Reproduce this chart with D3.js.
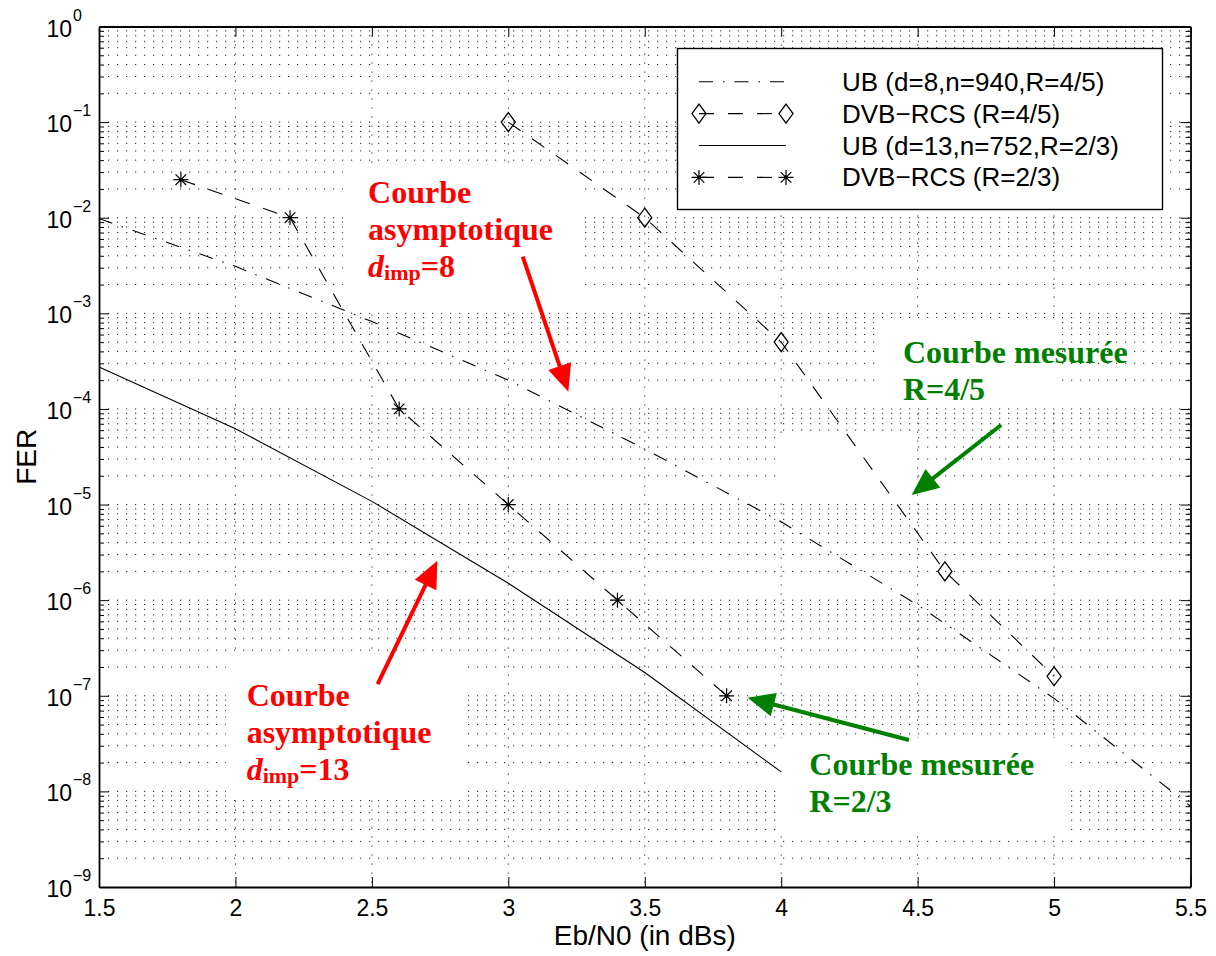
<!DOCTYPE html>
<html><head><meta charset="utf-8">
<script src="https://cdn.jsdelivr.net/npm/d3@7"></script>
<style>body{margin:0;background:#fff}</style>
</head><body>
<svg id="chart" width="1216" height="956"></svg>
<script>
// ---------------- data ----------------
const ubR45X = [1.5, 2.0, 2.5, 3.0, 3.5, 4.0, 4.5, 5.0, 5.5];
const ubR45Y = [9.8e-3, 3.1e-3, 8.2e-4, 2.0e-4, 3.8e-5, 6.6e-6, 8.9e-7, 9.4e-8, 7.0e-9];
const dvbR45X = [3.0, 3.5, 4.0, 4.6, 5.0];
const dvbR45Y = [1e-1, 1e-2, 5e-4, 2e-6, 1.6e-7];
const ubR23X = [1.5, 2.0, 2.5, 3.0, 3.5, 4.0];
const ubR23Y = [2.75e-4, 6.2e-5, 1.08e-5, 1.5e-6, 1.75e-7, 1.6e-8];
const dvbR23X = [1.8, 2.2, 2.6, 3.0, 3.4, 3.8];
const dvbR23Y = [2.5e-2, 1e-2, 1e-4, 1e-5, 1e-6, 1e-7];

const xTicks = [1.5, 2, 2.5, 3, 3.5, 4, 4.5, 5, 5.5];
const xTickLabels = ["1.5", "2", "2.5", "3", "3.5", "4", "4.5", "5", "5.5"];
const yExponents = [0, -1, -2, -3, -4, -5, -6, -7, -8, -9];
const legendLabels = ["UB (d=8,n=940,R=4/5)", "DVB\u2212RCS (R=4/5)", "UB (d=13,n=752,R=2/3)", "DVB\u2212RCS (R=2/3)"];
const xLabel = "Eb/N0 (in dBs)";
const yLabel = "FER";

// annotations: positions in data units (x in dB, y as log10 FER)
const annoTexts = [
  {lines: ["Courbe", "asymptotique"], dval: "8", color: "#ff0000", x: 2.486, ly: -1.846},
  {lines: ["Courbe", "asymptotique"], dval: "13", color: "#ff0000", x: 2.041, ly: -7.104},
  {lines: ["Courbe mesur\u00e9e", "R=4/5"], dval: null, color: "#008000", x: 4.446, ly: -3.523},
  {lines: ["Courbe mesur\u00e9e", "R=2/3"], dval: null, color: "#008000", x: 4.103, ly: -7.829}
];
const annoArrows = [
  {color: "#ff0000", x0: 3.053, ly0: -2.408, x1: 3.220, ly1: -3.820},
  {color: "#ff0000", x0: 2.521, ly0: -6.877, x1: 2.740, ly1: -5.587},
  {color: "#008000", x0: 4.806, ly0: -4.168, x1: 4.478, ly1: -4.900},
  {color: "#008000", x0: 4.468, ly0: -7.463, x1: 3.877, ly1: -7.020}
];
// white background boxes of the text annotations (hide the grid)
const annoBoxes = [
  {x0: 2.394, x1: 3.274, ly0: -1.50, ly1: -2.934},
  {x0: 1.965, x1: 2.838, ly0: -6.574, ly1: -8.059},
  {x0: 3.996, x1: 5.044, ly0: -7.442, ly1: -8.457},
  {x0: 4.362, x1: 5.029, ly0: -3.049, ly1: -3.990},
  {x0: 3.996, x1: 4.498, ly0: -4.293, ly1: -4.952}
];

// ---------------- layout ----------------
const M = {left: 99, right: 1190.5, top: 26.5, bottom: 887};
const sans = "'Liberation Sans', Arial, Helvetica, sans-serif";
const serif = "'Liberation Serif', 'Times New Roman', Times, serif";

const svg = d3.select("#chart");
svg.append("rect").attr("width", 1216).attr("height", 956).attr("fill", "#fff");

const x = d3.scaleLinear().domain([1.5, 5.5]).range([M.left, M.right]);
const y = d3.scaleLog().domain([1, 1e-9]).range([M.top, M.bottom]);
const yl = v => y(Math.pow(10, v));

const majors = yExponents.map(e => Math.pow(10, e));
const minors = [];
for (let e = -9; e < 0; e++) for (let m = 2; m <= 9; m++) minors.push(m * Math.pow(10, e));

// ---------------- grid ----------------
const grid = svg.append("g").attr("stroke", "#222").attr("stroke-width", 1)
  .attr("stroke-dasharray", "1.2,7.8").attr("fill", "none");
grid.selectAll("line.h").data(majors.concat(minors).filter(v => v < 1 && v > 1e-9))
  .join("line").attr("class", "h")
  .attr("x1", M.left).attr("x2", M.right).attr("y1", d => y(d)).attr("y2", d => y(d));
grid.selectAll("line.v").data(xTicks.slice(1, -1))
  .join("line").attr("class", "v")
  .attr("x1", d => x(d)).attr("x2", d => x(d)).attr("y1", M.top).attr("y2", M.bottom);

// white boxes behind annotation texts
svg.append("g").selectAll("rect").data(annoBoxes).join("rect")
  .attr("x", d => x(d.x0)).attr("y", d => yl(d.ly0))
  .attr("width", d => x(d.x1) - x(d.x0)).attr("height", d => yl(d.ly1) - yl(d.ly0))
  .attr("fill", "#fff");

// ---------------- series ----------------
const plot = svg.append("g");
const line = d3.line().x(d => x(d[0])).y(d => y(d[1]));
const zip = (a, b) => a.map((v, i) => [v, b[i]]);

const series = [
  {pts: zip(ubR45X, ubR45Y), dash: "14,10,1.5,10", marker: null},
  {pts: zip(dvbR45X, dvbR45Y), dash: "15,14", marker: "diamond"},
  {pts: zip(ubR23X, ubR23Y), dash: null, marker: null},
  {pts: zip(dvbR23X, dvbR23Y), dash: "15,14", marker: "star"}
];
const diamondPath = "M0,-9.5L7,0L0,9.5L-7,0Z";
const starPath = "M-7.5,0H7.5M0,-7.5V7.5M-5.3,-5.3L5.3,5.3M-5.3,5.3L5.3,-5.3";

function drawMarker(g, type, px, py) {
  if (type === "diamond") {
    g.append("path").attr("d", diamondPath).attr("transform", `translate(${px},${py})`)
      .attr("fill", "none").attr("stroke", "#000").attr("stroke-width", 1.3);
  } else if (type === "star") {
    g.append("path").attr("d", starPath).attr("transform", `translate(${px},${py})`)
      .attr("fill", "none").attr("stroke", "#000").attr("stroke-width", 1.2);
    g.append("circle").attr("cx", px).attr("cy", py).attr("r", 1.8).attr("fill", "#000");
  }
}

series.forEach(s => {
  plot.append("path").datum(s.pts).attr("d", line)
    .attr("fill", "none").attr("stroke", "#000").attr("stroke-width", 1.1)
    .attr("stroke-dasharray", s.dash);
  if (s.marker) s.pts.forEach(p => drawMarker(plot, s.marker, x(p[0]), y(p[1])));
});

// ---------------- axes ----------------
const axStroke = g => { g.select(".domain").attr("stroke", "#000").attr("stroke-width", 1.8);
  g.selectAll(".tick line").attr("stroke", "#000").attr("stroke-width", 1); };

const xb = svg.append("g").attr("transform", `translate(0,${M.bottom})`)
  .call(d3.axisBottom(x).tickValues(xTicks).tickFormat((d, i) => xTickLabels[i])
    .tickSizeInner(-10).tickSizeOuter(0).tickPadding(13));
xb.call(axStroke);
xb.selectAll("text").attr("font-family", sans).attr("font-size", 23).attr("fill", "#000");

svg.append("g").attr("transform", `translate(0,${M.top})`)
  .call(d3.axisTop(x).tickValues(xTicks).tickFormat(() => "").tickSizeInner(-10).tickSizeOuter(0))
  .call(axStroke);

svg.append("g").attr("transform", `translate(${M.left},0)`)
  .call(d3.axisLeft(y).tickValues(majors).tickFormat(() => "").tickSizeInner(-10).tickSizeOuter(0))
  .call(axStroke);
svg.append("g").attr("transform", `translate(${M.left},0)`)
  .call(d3.axisLeft(y).tickValues(minors).tickFormat(() => "").tickSizeInner(-5).tickSizeOuter(0))
  .call(g => g.select(".domain").remove()).call(axStroke);
svg.append("g").attr("transform", `translate(${M.right},0)`)
  .call(d3.axisRight(y).tickValues(majors).tickFormat(() => "").tickSizeInner(-10).tickSizeOuter(0))
  .call(axStroke);
svg.append("g").attr("transform", `translate(${M.right},0)`)
  .call(d3.axisRight(y).tickValues(minors).tickFormat(() => "").tickSizeInner(-5).tickSizeOuter(0))
  .call(g => g.select(".domain").remove()).call(axStroke);

// y tick labels 10^k
const yLab = svg.append("g").attr("font-family", sans).attr("fill", "#000");
yLab.selectAll("text.base").data(yExponents).join("text").attr("class", "base")
  .attr("x", 72).attr("y", e => yl(e) + 10).attr("text-anchor", "end")
  .attr("font-size", 23).text("10");
yLab.selectAll("text.exp").data(yExponents).join("text").attr("class", "exp")
  .attr("x", 73).attr("y", e => yl(e) - 6).attr("font-size", 16)
  .text(e => e === 0 ? "0" : "\u2212" + Math.abs(e));

// axis titles
svg.append("text").attr("x", (M.left + M.right) / 2).attr("y", 945)
  .attr("text-anchor", "middle").attr("font-family", sans).attr("font-size", 28).text(xLabel);
svg.append("text").attr("transform", `translate(36,${(M.top + M.bottom) / 2}) rotate(-90)`)
  .attr("text-anchor", "middle").attr("font-family", sans).attr("font-size", 28).text(yLabel);

// ---------------- legend ----------------
const lg = svg.append("g");
lg.append("rect").attr("x", 677.5).attr("y", 48.5).attr("width", 485).attr("height", 161)
  .attr("fill", "#fff").attr("stroke", "#000").attr("stroke-width", 1.4);
legendLabels.forEach((lab, i) => {
  const ly = 81.7 + i * 31.9;
  const s = series[i];
  lg.append("line").attr("x1", 699).attr("x2", 786).attr("y1", ly).attr("y2", ly)
    .attr("stroke", "#000").attr("stroke-width", 1.1).attr("stroke-dasharray", s.dash);
  if (s.marker) { drawMarker(lg, s.marker, 699, ly); drawMarker(lg, s.marker, 786, ly); }
  lg.append("text").attr("x", 842).attr("y", ly + 9).attr("font-family", sans)
    .attr("font-size", 26).attr("fill", "#000").text(lab);
});

// ---------------- annotations ----------------
const an = svg.append("g").attr("font-family", serif).attr("font-weight", "bold").attr("font-size", 32);
annoTexts.forEach(a => {
  const px = x(a.x), py = yl(a.ly);
  a.lines.forEach((t, i) => {
    an.append("text").attr("x", px).attr("y", py + i * 37).attr("fill", a.color).text(t);
  });
  if (a.dval) {
    const t = an.append("text").attr("x", px).attr("y", py + 2 * 37).attr("fill", a.color);
    t.append("tspan").attr("font-style", "italic").text("d");
    t.append("tspan").attr("font-size", 22).attr("dy", 3).text("imp");
    t.append("tspan").attr("dy", -3).text("=" + a.dval);
  }
});

annoArrows.forEach(a => {
  const x0 = x(a.x0), y0 = yl(a.ly0), x1 = x(a.x1), y1 = yl(a.ly1);
  const dx = x1 - x0, dy = y1 - y0, L = Math.hypot(dx, dy);
  const ux = dx / L, uy = dy / L, hl = 27, hw = 12;
  const bx = x1 - ux * hl, by = y1 - uy * hl;
  svg.append("line").attr("x1", x0).attr("y1", y0).attr("x2", bx + ux * 2).attr("y2", by + uy * 2)
    .attr("stroke", a.color).attr("stroke-width", 4);
  svg.append("path").attr("d", `M${x1},${y1}L${bx - uy * hw},${by + ux * hw}L${bx + uy * hw},${by - ux * hw}Z`)
    .attr("fill", a.color);
});
</script>
</body></html>
